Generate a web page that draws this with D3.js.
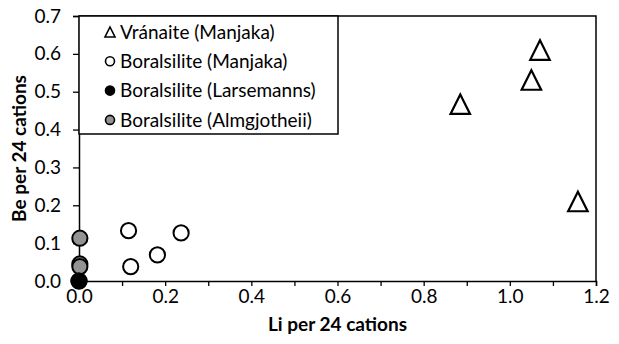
<!DOCTYPE html>
<html><head><meta charset="utf-8">
<script src="https://cdn.jsdelivr.net/npm/d3@7"></script>
<style>body{margin:0;background:#fff}svg{display:block}text{font-family:Lato,"Open Sans",sans-serif}</style>
</head><body><svg id="c" width="619" height="344"></svg>
<script>
const vranaiteLi = [1.07, 1.05, 0.885, 1.158];
const vranaiteBe = [0.61, 0.531, 0.467, 0.21];
const borManjakaLi = [0.115, 0.237, 0.182, 0.12];
const borManjakaBe = [0.133, 0.127, 0.069, 0.038];
const borLarsLi = [0, 0];
const borLarsBe = [0, 0];
const borAlmLi = [0.002, 0.002, 0.002];
const borAlmBe = [0.113, 0.045, 0.038];
const xTicks = [0, 0.2, 0.4, 0.6, 0.8, 1.0, 1.2];
const xMinor = [0.1, 0.3, 0.5, 0.7, 0.9, 1.1];
const yTicks = [0, 0.1, 0.2, 0.3, 0.4, 0.5, 0.6, 0.7];
const seriesNames = ["Vránaite (Manjaka)", "Boralsilite (Manjaka)", "Boralsilite (Larsemanns)", "Boralsilite (Almgjotheii)"];

const svg = d3.select("#c");
const x = d3.scaleLinear().domain([0, 1.2]).range([79, 596]);
const y = d3.scaleLinear().domain([0, 0.7]).range([281, 16]);

// bbox-centred triangle symbol
const tri = { draw(ctx, size) { const h = Math.sqrt(size); ctx.moveTo(0, -h/2); ctx.lineTo(h/2, h/2); ctx.lineTo(-h/2, h/2); ctx.closePath(); } };

// plot border (top & right)
svg.append("path").attr("d", `M${x(0)},${y(0.7)}H${x(1.2)}V${y(0)}`).attr("fill","none").attr("stroke","#000").attr("stroke-width",1.5);

const fs = 19;
// x axis
const xa = svg.append("g").attr("transform", `translate(0,${y(0)})`)
  .call(d3.axisBottom(x).tickValues(xTicks.concat(xMinor)).tickSize(5).tickFormat(d => xTicks.some(t => Math.abs(t-d)<1e-9) ? d3.format(".1f")(d) : ""));
xa.select(".domain").attr("stroke-width",1.5);
xa.selectAll(".tick line").attr("stroke-width",1.3);
xa.selectAll("text").attr("font-size", fs).attr("fill","#000").attr("dy","0.3em").attr("y", 16).attr("font-family","Lato");
// y axis
const ya = svg.append("g").attr("transform", `translate(${x(0)},0)`)
  .call(d3.axisLeft(y).tickValues(yTicks).tickSize(6).tickFormat(d3.format(".1f")));
ya.select(".domain").attr("stroke-width",1.5);
ya.selectAll(".tick line").attr("stroke-width",1.3);
ya.selectAll("text").attr("font-size", fs).attr("fill","#000").attr("x", -18).attr("font-family","Lato");

// axis titles
svg.append("text").attr("x", (x(0)+x(1.2))/2).attr("y", 331).attr("text-anchor","middle")
  .attr("font-size", fs).attr("font-weight","bold").text("Li per 24 cations");
svg.append("text").attr("transform", `translate(26,${(y(0)+y(0.7))/2}) rotate(-90)`).attr("text-anchor","middle")
  .attr("font-size", fs).attr("font-weight","bold").text("Be per 24 cations");

// legend
const lg = svg.append("g");
lg.append("rect").attr("x", x(0)).attr("y", y(0.7)).attr("width", 338 - x(0)).attr("height", 134 - y(0.7))
  .attr("fill","#fff").attr("stroke","#000").attr("stroke-width",1.5);
const legFill = ["#fff", "#fff", "#000", "#939393"];
seriesNames.forEach((n, i) => {
  const cy = 32 + i * 29.3;
  if (i === 0) lg.append("path").attr("d", d3.symbol(tri, 100)()).attr("transform", `translate(110,${cy})`)
    .attr("fill","#fff").attr("stroke","#000").attr("stroke-width",1.6);
  else lg.append("circle").attr("cx",110).attr("cy",cy).attr("r",4.5).attr("fill",legFill[i]).attr("stroke","#000").attr("stroke-width",1.6);
  lg.append("text").attr("x",120).attr("y",cy).attr("dy","0.35em").attr("font-size", fs).text(n);
});

// points
const pts = svg.append("g");
function circles(xs, ys, fill) {
  pts.selectAll(null).data(xs.map((v,i)=>[v,ys[i]])).enter().append("circle")
    .attr("cx", d=>x(d[0])).attr("cy", d=>y(d[1])).attr("r", 7.6)
    .attr("fill", fill).attr("stroke","#000").attr("stroke-width",2);
}
pts.selectAll(null).data(vranaiteLi.map((v,i)=>[v,vranaiteBe[i]])).enter().append("path")
  .attr("d", d3.symbol(tri, 380)()).attr("transform", d=>`translate(${x(d[0])},${y(d[1])})`)
  .attr("fill","#fff").attr("stroke","#000").attr("stroke-width",2.2).attr("stroke-linejoin","miter");
circles(borManjakaLi, borManjakaBe, "#fff");
circles(borAlmLi, borAlmBe, "#939393");
circles(borLarsLi, borLarsBe, "#000");
</script></body></html>
